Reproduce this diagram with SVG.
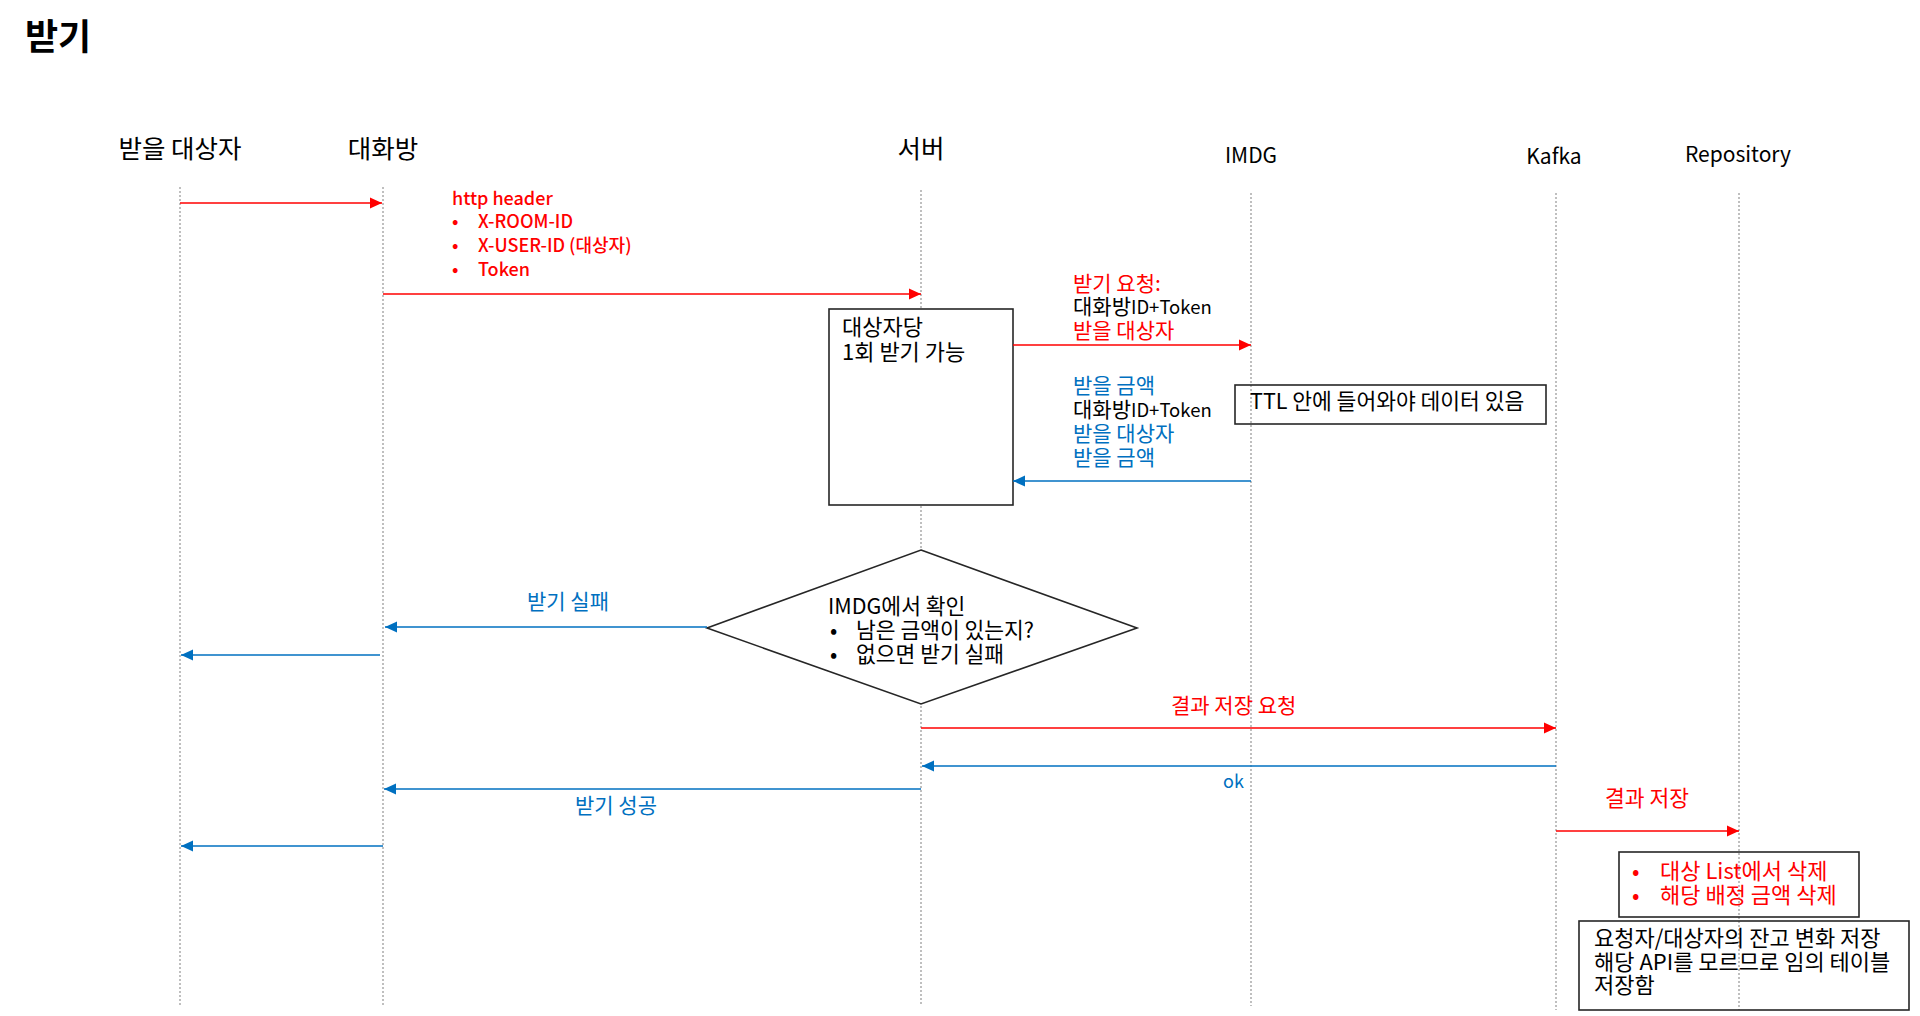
<svg xmlns="http://www.w3.org/2000/svg" width="1920" height="1016" viewBox="0 0 1920 1016">
<style>
text{font-family:"Noto Sans CJK KR","Noto Sans",sans-serif;fill:#000}
.title{font-size:36px;font-weight:bold}
.actor{font-size:25.5px;text-anchor:middle}
.actor-en{font-size:21px;text-anchor:middle}
.lbl{font-size:21px}
.lbl2{font-size:21.5px}
.note-t{font-size:22px}
.en{font-size:18.5px}
.hdr{font-size:18px;fill:#FF0000;font-weight:500}
.red{fill:#FF0000}
.blue{fill:#0070C0}
.life{stroke:#BFBFBF;stroke-width:2;stroke-dasharray:2 2;fill:none}
.box{stroke:#262626;stroke-width:1.6;fill:#fff}
.note{stroke:#262626;stroke-width:1.6;fill:none}
.mr{stroke:#FF0000;stroke-width:1.5;fill:none;marker-end:url(#ah-red)}
.mb{stroke:#0070C0;stroke-width:1.5;fill:none;marker-end:url(#ah-blue)}
</style>
<defs>
<marker id="ah-red" viewBox="0 0 12 12" refX="12" refY="6" markerWidth="12" markerHeight="12" markerUnits="userSpaceOnUse" orient="auto"><path d="M0,0.5 L12,6 L0,11.5 z" fill="#FF0000"/></marker>
<marker id="ah-blue" viewBox="0 0 12 12" refX="12" refY="6" markerWidth="12" markerHeight="12" markerUnits="userSpaceOnUse" orient="auto"><path d="M0,0.5 L12,6 L0,11.5 z" fill="#0070C0"/></marker>
</defs>
<rect width="1920" height="1016" fill="#fff"/>
<text class="title" x="25" y="50">받기</text>

<g id="actor-receiver"><text class="actor" x="180" y="158">받을 대상자</text><line class="life" x1="180" y1="187" x2="180" y2="1006"/></g>
<g id="actor-chatroom"><text class="actor" x="383" y="158">대화방</text><line class="life" x1="383" y1="187" x2="383" y2="1006"/></g>
<g id="actor-server"><text class="actor" x="921" y="158">서버</text><line class="life" x1="921" y1="190" x2="921" y2="1006"/></g>
<g id="actor-imdg"><text class="actor-en" x="1251" y="163">IMDG</text><line class="life" x1="1251" y1="193" x2="1251" y2="1006"/></g>
<g id="actor-kafka"><text class="actor-en" x="1554" y="164">Kafka</text><line class="life" x1="1556" y1="193" x2="1556" y2="1010"/></g>
<g id="actor-repository"><text class="actor-en" x="1738" y="162">Repository</text><line class="life" x1="1739" y1="193" x2="1739" y2="1010"/></g>

<g id="server-box"><rect class="box" x="829" y="309" width="184" height="196"/><text class="note-t" x="842" y="335">대상자당</text><text class="note-t" x="842" y="360">1회 받기 가능</text></g>

<g id="decision"><polygon class="box" points="921,550 1137,628 921,704 707,628"/>
<text class="lbl2" x="828" y="614">IMDG에서 확인</text>
<text class="lbl2" x="830" y="638">•</text><text class="lbl2" x="856" y="638">남은 금액이 있는지?</text>
<text class="lbl2" x="830" y="662">•</text><text class="lbl2" x="856" y="662">없으면 받기 실패</text></g>

<g id="connectors">
<line class="mr" x1="180" y1="203" x2="382" y2="203"/>
<line class="mr" x1="383" y1="294" x2="921" y2="294"/>
<line class="mr" x1="1013" y1="345" x2="1251" y2="345"/>
<line class="mb" x1="1251" y1="481" x2="1013" y2="481"/>
<line class="mb" x1="707" y1="627" x2="385" y2="627"/>
<line class="mb" x1="380" y1="655" x2="181" y2="655"/>
<line class="mr" x1="921" y1="728" x2="1556" y2="728"/>
<line class="mb" x1="1556" y1="766" x2="922" y2="766"/>
<line class="mb" x1="921" y1="789" x2="384" y2="789"/>
<line class="mr" x1="1556" y1="831" x2="1739" y2="831"/>
<line class="mb" x1="383" y1="846" x2="181" y2="846"/>
</g>

<g id="msg-labels">
<text class="hdr" x="452" y="205">http header</text>
<text class="hdr" x="452" y="228">•</text><text class="hdr" x="478" y="228">X-ROOM-ID</text>
<text class="hdr" x="452" y="252">•</text><text class="hdr" x="478" y="252">X-USER-ID (대상자)</text>
<text class="hdr" x="452" y="276">•</text><text class="hdr" x="478" y="276">Token</text>
<text class="lbl red" x="1073" y="291">받기 요청:</text>
<text class="lbl" x="1073" y="314">대화방<tspan class="en">ID+Token</tspan></text>
<text class="lbl red" x="1073" y="338">받을 대상자</text>
<text class="lbl blue" x="1073" y="393">받을 금액</text>
<text class="lbl" x="1073" y="417">대화방<tspan class="en">ID+Token</tspan></text>
<text class="lbl blue" x="1073" y="441">받을 대상자</text>
<text class="lbl blue" x="1073" y="465">받을 금액</text>
<text class="lbl blue" x="527" y="609">받기 실패</text>
<text class="lbl red" x="1171" y="713">결과 저장 요청</text>
<text class="blue" x="1223" y="788" style="font-size:18px">ok</text>
<text class="lbl blue" x="575" y="813">받기 성공</text>
<text class="lbl2 red" x="1605" y="806">결과 저장</text>
</g>

<g id="note-ttl"><rect class="note" x="1235" y="385" width="311" height="39"/><text class="lbl2" x="1250" y="409">TTL 안에 들어와야 데이터 있음</text></g>

<g id="note-delete"><rect class="note" x="1619" y="852" width="240" height="65"/>
<text class="note-t red" x="1632" y="879">•</text><text class="note-t red" x="1660" y="879">대상 List에서 삭제</text>
<text class="note-t red" x="1632" y="903">•</text><text class="note-t red" x="1660" y="903">해당 배정 금액 삭제</text></g>

<g id="note-save"><rect class="note" x="1579" y="921" width="330" height="89"/>
<text class="note-t" x="1594" y="946">요청자/대상자의 잔고 변화 저장</text>
<text class="note-t" x="1594" y="970">해당 API를 모르므로 임의 테이블</text>
<text class="note-t" x="1594" y="993">저장함</text></g>
</svg>
